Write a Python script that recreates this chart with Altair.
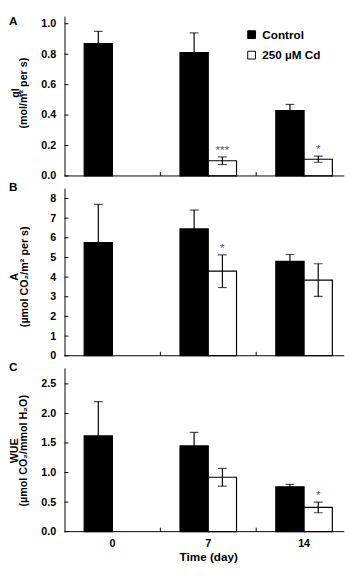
import altair as alt
import pandas as pd

days = ["0", "7", "14"]
treatments = ["Control", "250 µM Cd"]

# Panel A: gl
gl_control = [0.87, 0.81, 0.43]
gl_control_err = [0.08, 0.13, 0.04]
gl_cd = [None, 0.10, 0.11]
gl_cd_err = [None, 0.025, 0.02]
gl_sig = ["", "***", "*"]
gl_ticks = [0.0, 0.2, 0.4, 0.6, 0.8, 1.0]
gl_title = ["gl", "(mol/m² per s)"]

# Panel B: A (assimilation)
a_control = [5.75, 6.45, 4.8]
a_control_err = [1.95, 0.96, 0.35]
a_cd = [None, 4.3, 3.85]
a_cd_err = [None, 0.83, 0.83]
a_sig = ["", "*", ""]
a_ticks = [0, 1, 2, 3, 4, 5, 6, 7, 8]
a_title = ["A", "(µmol CO₂/m² per s)"]

# Panel C: WUE
wue_control = [1.62, 1.45, 0.76]
wue_control_err = [0.58, 0.23, 0.04]
wue_cd = [None, 0.92, 0.41]
wue_cd_err = [None, 0.15, 0.09]
wue_sig = ["", "", "*"]
wue_ticks = [0.0, 0.5, 1.0, 1.5, 2.0, 2.5]
wue_title = ["WUE", "(µmol CO₂/mmol H₂O)"]

FONT = "Liberation Sans, Arial, sans-serif"
W = 287          # visible plot width (page must stay within 344 px)
XR = 295         # x scale range (category spacing as in the original)


def make_df(ctrl, ctrl_err, cd, cd_err, sig):
    rows = []
    for i, d in enumerate(days):
        rows.append({"day": d, "trt": treatments[0], "mean": ctrl[i],
                     "lo": ctrl[i] - ctrl_err[i], "hi": ctrl[i] + ctrl_err[i], "sig": ""})
        if cd[i] is not None:
            rows.append({"day": d, "trt": treatments[1], "mean": cd[i],
                         "lo": cd[i] - cd_err[i], "hi": cd[i] + cd_err[i], "sig": sig[i]})
    return pd.DataFrame(rows)


def panel(df, ticks, ymax, h, title_lines, title_x, title_y, letter, letter_y, fmt, last, legend):
    xs = alt.Scale(domain=days, range=[0, XR], paddingInner=0, paddingOuter=0)
    xo = alt.Scale(domain=treatments, paddingInner=0, paddingOuter=0.695)
    ys = alt.Scale(domain=[0, ymax], nice=False, zero=True)
    if last:
        xaxis = alt.Axis(title="Time (day)", labels=True, ticks=False, tickSize=0, domain=False,
                         labelPadding=6, labelAngle=0, labelFontSize=11,
                         labelFontWeight="bold", titleFontSize=12, titleFontWeight="bold",
                         titlePadding=4, grid=False)
    else:
        xaxis = alt.Axis(title=None, labels=False, ticks=False, tickSize=0, domain=False,
                         grid=False)
    yaxis = alt.Axis(values=ticks, format=fmt, title=None, ticks=False, tickSize=0,
                     labelPadding=9, labelFontSize=11, labelFontWeight="bold", grid=False)
    if legend:
        leg = alt.Legend(title=None, orient="none", legendX=186, legendY=13,
                         symbolType="square", symbolSize=64, symbolStrokeColor="black",
                         symbolStrokeWidth=1, labelFontSize=12, labelFontWeight="bold",
                         labelOffset=5, rowPadding=9, padding=0)
    else:
        leg = None
    fill = alt.Fill("trt:N", scale=alt.Scale(domain=treatments, range=["black", "white"]),
                    legend=leg)
    base = alt.Chart(df)
    X = alt.X("day:N", scale=xs, axis=xaxis, sort=days)
    XO = alt.XOffset("trt:N", scale=xo, sort=treatments)

    def Y(f):
        return alt.Y(f, scale=ys, axis=yaxis)

    bars = base.mark_bar(stroke="black", strokeWidth=1.2).encode(
        x=X, xOffset=XO, y=Y("mean:Q"), fill=fill)
    rule = base.mark_rule(color="black", strokeWidth=1.2).encode(
        x=X, xOffset=XO, y=Y("lo:Q"), y2="hi:Q")
    cap_hi = base.mark_tick(color="black", size=9, thickness=1.2).encode(
        x=X, xOffset=XO, y=Y("hi:Q"))
    cap_lo = base.mark_tick(color="black", size=9, thickness=1.2).encode(
        x=X, xOffset=XO, y=Y("lo:Q"))
    stars = base.transform_filter("datum.sig != ''").mark_text(
        fontSize=12, color="#555555", baseline="alphabetic", dy=-3).encode(
        x=X, xOffset=XO, y=Y("hi:Q"), text="sig:N")
    ytick = alt.Chart(pd.DataFrame({"v": ticks})).mark_rule(color="black", strokeWidth=1).encode(
        y=Y("v:Q"), x=alt.value(0), x2=alt.value(4))
    xtick = alt.Chart(pd.DataFrame({"day": days[1:]})).mark_rule(color="black", strokeWidth=1).encode(
        x=alt.X("day:N", scale=xs, axis=xaxis, sort=days, bandPosition=0),
        y=alt.value(h), y2=alt.value(h - 4))
    ldf = pd.DataFrame({"t": [letter]})
    baseline = alt.Chart(ldf).mark_rule(color="black", strokeWidth=1).encode(
        x=alt.value(0), x2=alt.value(W), y=alt.value(h))
    lab = alt.Chart(ldf).mark_text(
        align="left", baseline="top", fontSize=12, fontWeight="bold").encode(
        text="t:N", x=alt.value(-57), y=alt.value(letter_y))
    t1 = alt.Chart(pd.DataFrame({"t": [title_lines[0]]})).mark_text(
        align="center", baseline="alphabetic", angle=270, fontSize=11, fontWeight="bold").encode(
        text="t:N", x=alt.value(title_x[0]), y=alt.value(title_y))
    t2 = alt.Chart(pd.DataFrame({"t": [title_lines[1]]})).mark_text(
        align="center", baseline="alphabetic", angle=270, fontSize=11, fontWeight="bold").encode(
        text="t:N", x=alt.value(title_x[1]), y=alt.value(title_y))
    return alt.layer(bars, rule, cap_hi, cap_lo, stars, ytick, xtick, baseline, lab, t1, t2).properties(
        width=W, height=h)


pA = panel(make_df(gl_control, gl_control_err, gl_cd, gl_cd_err, gl_sig), gl_ticks, 1.05, 164,
           gl_title, (-46.5, -38), 79, "A", 0, ".1f", False, True)
pB = panel(make_df(a_control, a_control_err, a_cd, a_cd_err, a_sig), a_ticks, 8.525, 172,
           a_title, (-48.2, -37.5), 91, "B", -6, "d", False, False)
pC = panel(make_df(wue_control, wue_control_err, wue_cd, wue_cd_err, wue_sig), wue_ticks, 2.77, 168,
           wue_title, (-48.2, -38), 85, "C", -6, ".1f", True, False)

chart = alt.vconcat(pA, pB, pC, spacing=12.5, bounds="flush").resolve_scale(
    y="independent", fill="independent"
).resolve_legend(fill="independent").properties(padding=0).configure(
    font=FONT
).configure_view(stroke=None).configure_axis(
    domainColor="black", domainWidth=1, labelColor="black", titleColor="black"
).configure_legend(labelColor="black")

chart.save("out.html", embed_options={"renderer": "svg", "actions": False})
